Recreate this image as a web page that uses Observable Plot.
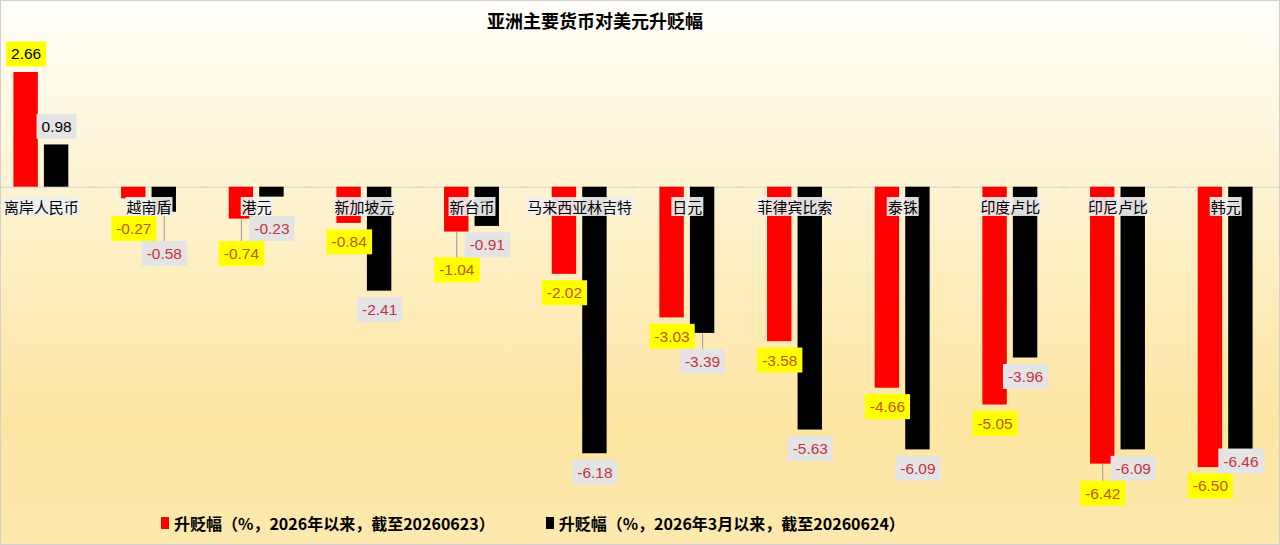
<!DOCTYPE html>
<html>
<head>
<meta charset="utf-8">
<script src="https://cdn.jsdelivr.net/npm/d3@7"></script>
<script src="https://cdn.jsdelivr.net/npm/@observablehq/plot@0.6"></script>
<style>
  html, body { margin: 0; padding: 0; background: #fff; }
  #wrap {
    position: relative; width: 1280px; height: 545px; box-sizing: border-box;
    border: 1px solid #d0d0d0;
    background: linear-gradient(to bottom, #fffefa 0%, #fef6dc 25%, #feeec0 50%, #fde6a2 78%, #fde9ae 100%);
    overflow: hidden;
  }
  #title {
    position: absolute; left: 0; top: 6px; width: 1188px; text-align: center;
    font: bold 18px "Noto Sans CJK SC", sans-serif; line-height: 26px; color: #000;
  }
  #legend {
    position: absolute; top: 510px; left: 160px; height: 24px;
    font: bold 16px "Noto Sans CJK SC", sans-serif; line-height: 24px; color: #000;
    display: flex; align-items: center; white-space: nowrap;
  }
  .item { display: flex; align-items: center; }
  .sw { display: inline-block; width: 8px; height: 12px; margin-right: 5px; }
  #chart { position: absolute; left: 0; top: 0; }
</style>
</head>
<body>
<div id="wrap">
  <div id="chart"></div>
  <div id="title"></div>
  <div id="legend"></div>
</div>
<script>
const title = "亚洲主要货币对美元升贬幅";
const categories = ["离岸人民币","越南盾","港元","新加坡元","新台币","马来西亚林吉特","日元","菲律宾比索","泰铢","印度卢比","印尼卢比","韩元"];
const seriesNames = ["升贬幅（%，2026年以来，截至20260623）","升贬幅（%，2026年3月以来，截至20260624）"];
const ytdValues = [2.66,-0.27,-0.74,-0.84,-1.04,-2.02,-3.03,-3.58,-4.66,-5.05,-6.42,-6.50];
const sinceMarchValues = [0.98,-0.58,-0.23,-2.41,-0.91,-6.18,-3.39,-5.63,-6.09,-3.96,-6.09,-6.46];
const seriesColors = ["#ff0000","#000000"];

// y scale definition (shared by Plot and the label-layout helper)
const yDomain = [-8, 4], yRange = [531.6, 13.2];
const yPix = d3.scaleLinear(yDomain, yRange);

// label layout: keep value labels clear of the category name and of each other
const GAP = 19, MIN_NEG = 228, SEP = 25, MAX_BOTTOM = 500;
const rows = [];
categories.forEach((c, i) => {
  const vals = [ytdValues[i], sinceMarchValues[i]];
  const pos = vals.map(v => v >= 0 ? yPix(v) - GAP + 1 : Math.max(yPix(v) + GAP, MIN_NEG));
  const moved = [false, false];
  if (vals[0] < 0 && vals[1] < 0 && Math.abs(pos[0] - pos[1]) < SEP) {
    const lo = pos[0] >= pos[1] ? 0 : 1, hi = 1 - lo;
    if (pos[hi] + SEP <= MAX_BOTTOM) { pos[lo] = pos[hi] + SEP; moved[lo] = true; }
    else { pos[hi] = pos[lo] - SEP; }
  }
  vals.forEach((v, k) => rows.push({
    cat: c, series: seriesNames[k], value: v,
    labelValue: yPix.invert(pos[k]),
    leaderEnd: moved[k] ? yPix.invert(pos[k] - 12) : null
  }));
});

document.getElementById("title").textContent = title;
const legend = document.getElementById("legend");
seriesNames.forEach((s, i) => {
  const it = document.createElement("div");
  it.className = "item";
  if (i > 0) it.style.marginLeft = "51px";
  const sw = document.createElement("span");
  sw.className = "sw"; sw.style.background = seriesColors[i];
  const tx = document.createElement("span");
  tx.textContent = s;
  it.appendChild(sw); it.appendChild(tx);
  legend.appendChild(it);
});

const numFont = "'Liberation Sans', Arial, sans-serif";
const cjkFont = "'Noto Sans CJK SC', sans-serif";
const fmt = d => d.value.toFixed(2);

const plot = Plot.plot({
  width: 1280, height: 545,
  marginLeft: 0, marginRight: 0, marginTop: 0, marginBottom: 0,
  style: {background: "transparent", overflow: "visible"},
  facet: {data: rows, x: "cat"},
  fx: {domain: categories, range: [-14, 1280], paddingInner: 0.49, paddingOuter: 0.245, round: false, axis: null, label: null},
  x: {domain: seriesNames, paddingInner: 0.2, paddingOuter: 0, round: false, axis: null},
  y: {domain: yDomain, range: yRange, axis: null},
  color: {domain: seriesNames, range: seriesColors},
  marks: [
    Plot.ruleY([0], {stroke: "#d2d2d2", strokeWidth: 1, insetLeft: -30, insetRight: -30}),
    Plot.barY(rows, {x: "series", y: "value", fill: "series"}),
    Plot.link(rows, {filter: d => d.leaderEnd !== null, x1: "series", x2: "series", y1: "value", y2: "leaderEnd",
      stroke: "#9a9a9a", strokeWidth: 1}),
    Plot.text(rows, {filter: d => d.series === seriesNames[0], text: "cat", y: () => 0, dy: 21,
      fontSize: 15, fontFamily: cjkFont, fill: "#000", ariaLabel: () => "bg-cat"}),
    Plot.text(rows, {filter: d => d.series === seriesNames[0], x: "series", y: "labelValue", text: fmt,
      fontSize: 15.5, fontFamily: numFont, fill: d => d.value >= 0 ? "#000000" : "#c4560e", ariaLabel: () => "bg-yellow"}),
    Plot.text(rows, {filter: d => d.series === seriesNames[1], x: "series", y: "labelValue", text: fmt,
      fontSize: 15.5, fontFamily: numFont, fill: d => d.value >= 0 ? "#000000" : "#c8323c", ariaLabel: () => "bg-grey"})
  ]
});
document.getElementById("chart").appendChild(plot);

// label background boxes
const bgs = {
  "bg-yellow": {fill: "#ffff00", px: 5, h: 25},
  "bg-grey": {fill: "#e4e4e4", px: 5, h: 25},
  "bg-cat": {fill: "rgba(240,240,240,0.92)", px: 1, h: 19}
};
const NS = "http://www.w3.org/2000/svg";
for (const [key, cfg] of Object.entries(bgs)) {
  const sel = `text[aria-label="${key}"], g[aria-label="${key}"] text`;
  plot.querySelectorAll(sel).forEach(t => {
    const bb = t.getBBox();
    const r = document.createElementNS(NS, "rect");
    r.setAttribute("x", bb.x - cfg.px);
    r.setAttribute("y", bb.y + bb.height / 2 - cfg.h / 2);
    r.setAttribute("width", bb.width + 2 * cfg.px);
    r.setAttribute("height", cfg.h);
    r.setAttribute("fill", cfg.fill);
    const tr = t.getAttribute("transform");
    if (tr) r.setAttribute("transform", tr);
    t.parentNode.insertBefore(r, t);
  });
}
</script>
</body>
</html>
